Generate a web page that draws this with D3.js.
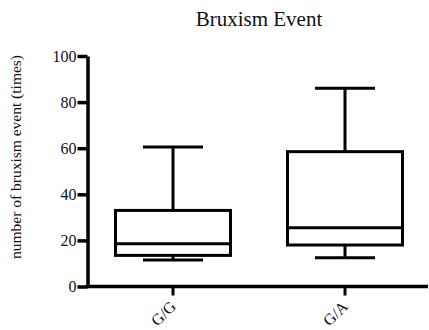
<!DOCTYPE html>
<html>
<head>
<meta charset="utf-8">
<script src="https://cdn.jsdelivr.net/npm/d3@7"></script>
<style>
  body { margin: 0; background: #fff; }
  svg text { font-family: "Liberation Serif", "Times New Roman", serif !important; fill: #111; }
</style>
</head>
<body>
<svg id="chart" width="429" height="330"></svg>
<script>
// chart values
const groups = ['G/G', 'G/A'];
const mins = [11.5, 12.5];
const q1s = [13.5, 18];
const medians = [18.5, 25.5];
const q3s = [33, 58.5];
const maxs = [60.5, 86];
const yTicks = [0, 20, 40, 60, 80, 100];

const title = 'Bruxism Event';
const yLabel = 'number of bruxism event (times)';

const svg = d3.select('#chart');
const plotLeft = 87.5, plotRight = 428, plotTop = 56, plotBottom = 286.5;
const serif = '"Liberation Serif", "Times New Roman", serif';

const x = d3.scaleBand().domain(groups).range([87, 431]);
const y = d3.scaleLinear().domain([0, 100]).range([plotBottom, plotTop]);

const boxes = groups.map((g, i) => ({
  g, min: mins[i], q1: q1s[i], med: medians[i], q3: q3s[i], max: maxs[i]
}));

// y axis
const yAxis = svg.append('g')
  .attr('transform', `translate(${plotLeft},0)`)
  .call(d3.axisLeft(y).tickValues(yTicks).tickSize(10).tickPadding(1).tickSizeOuter(0));
yAxis.attr('font-family', serif);
yAxis.select('.domain').attr('stroke', '#000').attr('stroke-width', 3.5);
yAxis.selectAll('.tick line').attr('stroke', '#000').attr('stroke-width', 3.5);
yAxis.selectAll('.tick text').style('font-size', '16px').style('font-family', serif).attr('fill', '#111');

// x axis
svg.append('line')
  .attr('x1', plotLeft - 1.75).attr('x2', plotRight)
  .attr('y1', plotBottom).attr('y2', plotBottom)
  .attr('stroke', '#000').attr('stroke-width', 3.5);

const xAxis = svg.append('g')
  .attr('transform', `translate(0,${plotBottom})`)
  .call(d3.axisBottom(x).tickSize(9).tickSizeOuter(0));
xAxis.attr('font-family', serif);
xAxis.select('.domain').remove();
xAxis.selectAll('.tick line').attr('stroke', '#000').attr('stroke-width', 3);
xAxis.selectAll('.tick text')
  .style('font-size', '16px')
  .style('font-family', serif)
  .attr('fill', '#111')
  .attr('text-anchor', 'end')
  .attr('dy', null)
  .attr('y', 0)
  .attr('transform', 'translate(4,21) rotate(-45)');

// boxes
const bw = 115, cw = 60;
const bg = svg.append('g').attr('stroke', '#000').attr('stroke-width', 3).attr('fill', 'none');
const b = bg.selectAll('.box').data(boxes).enter().append('g').attr('class', 'box');
const cx = d => x(d.g) + x.bandwidth() / 2;

b.append('line')
  .attr('x1', cx).attr('x2', cx)
  .attr('y1', d => y(d.max)).attr('y2', d => y(d.q3));
b.append('line')
  .attr('x1', cx).attr('x2', cx)
  .attr('y1', d => y(d.q1)).attr('y2', d => y(d.min));
b.append('line')
  .attr('x1', d => cx(d) - cw / 2).attr('x2', d => cx(d) + cw / 2)
  .attr('y1', d => y(d.max)).attr('y2', d => y(d.max));
b.append('line')
  .attr('x1', d => cx(d) - cw / 2).attr('x2', d => cx(d) + cw / 2)
  .attr('y1', d => y(d.min)).attr('y2', d => y(d.min));
b.append('rect')
  .attr('x', d => cx(d) - bw / 2).attr('width', bw)
  .attr('y', d => y(d.q3)).attr('height', d => y(d.q1) - y(d.q3))
  .attr('fill', '#fff');
b.append('line')
  .attr('x1', d => cx(d) - bw / 2).attr('x2', d => cx(d) + bw / 2)
  .attr('y1', d => y(d.med)).attr('y2', d => y(d.med));

// title and y label
svg.append('text')
  .attr('x', 259).attr('y', 26)
  .attr('text-anchor', 'middle')
  .style('font-size', '21px')
  .text(title);

svg.append('text')
  .attr('transform', `translate(21,${157}) rotate(-90)`)
  .attr('text-anchor', 'middle')
  .style('font-size', '15.5px')
  .text(yLabel);
</script>
</body>
</html>
